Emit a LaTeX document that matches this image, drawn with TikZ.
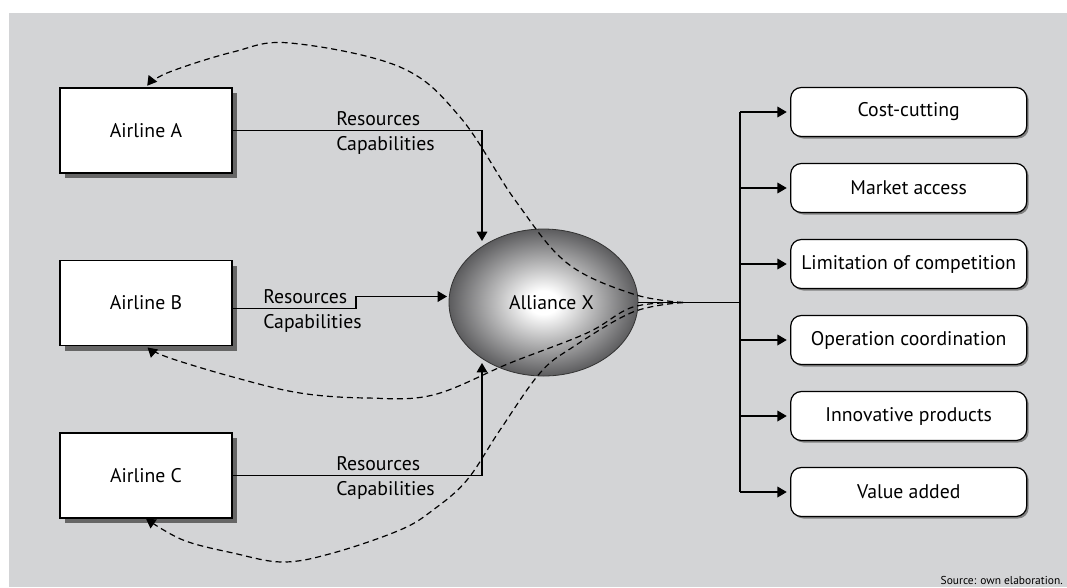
\documentclass[tikz,border=0pt]{standalone}
\usepackage{fontspec}
\setmainfont{PT Sans}
\usetikzlibrary{arrows.meta, shapes.geometric, shadows}

\definecolor{panel}{RGB}{211,212,214}
\definecolor{rim}{RGB}{92,92,94}
\pgfdeclareradialshading{alliance}{\pgfpoint{0bp}{0bp}}{%
  color(0bp)=(white); color(4bp)=(white); color(25bp)=(rim); color(50bp)=(rim)}

\begin{document}
\begin{tikzpicture}[x=0.75pt, y=-0.75pt, font=\fontsize{14.8}{17}\selectfont,
    airline/.style={draw, line width=1pt, fill=white, minimum width=129pt, minimum height=63.75pt,
        drop shadow={shadow xshift=3.75pt, shadow yshift=-3.75pt, fill=black!60, opacity=1}},
    goal/.style={draw, line width=0.9pt, fill=white, rounded corners=8pt, minimum width=177pt, minimum height=36.75pt,
        drop shadow={shadow xshift=1.5pt, shadow yshift=-1.5pt, fill=black!50, opacity=1}},
    link/.style={line width=0.9pt},
    flow/.style={line width=0.9pt, -{Triangle[length=7pt, width=8pt]}},
    feedback/.style={line width=0.9pt, dash pattern=on 4.5pt off 3pt, -{Triangle[length=7pt, width=8pt]}},
    tag/.style={anchor=base west, inner sep=0pt}]

        % panel
        \useasboundingbox (0,0) rectangle (1067,587);
        \fill[panel] (9,13) rectangle (1067,587);

        % partners and the alliance
        \node[airline] (A) at (146,130.5) {Airline A};
        \node[airline] (B) at (146,303) {Airline B};
        \node[airline] (C) at (146,475.5) {Airline C};
        \node[ellipse, draw=black!80, line width=0.6pt, shade, shading=alliance,
            minimum width=141.75pt, minimum height=110.25pt, inner sep=0pt] (X) at (543.5,302.5) {\hspace{12pt}Alliance X};

        % outcomes
        \node[goal] (g1) at (908.7,112) {Cost-cutting};
        \node[goal] (g2) at (908.7,188) {Market access};
        \node[goal] (g3) at (908.7,264) {Limitation of competition};
        \node[goal] (g4) at (908.7,340) {Operation coordination};
        \node[goal] (g5) at (908.7,416) {Innovative products};
        \node[goal] (g6) at (908.7,492) {Value added};

        % resources going in
        \coordinate (inA) at (482,241);
        \coordinate (inB) at (447,296.5);
        \coordinate (inC) at (482,363);
        \draw[flow] (A.east) -| (inA);
        \draw[flow] (B.east |- 0,308.5) -- (356,308.5) |- (inB);
        \draw[flow] (C.east) -| (inC);

        \node[tag] (resA) at (336,125) {Resources};
        \node[tag] (capA) at (336,150) {Capabilities};
        \node[tag] (resB) at (263,303) {Resources};
        \node[tag] (capB) at (263,328) {Capabilities};
        \node[tag] (resC) at (336,470) {Resources};
        \node[tag] (capC) at (336,495) {Capabilities};

        % outcomes fan out
        \coordinate (hub) at (740,302.5);
        \draw[link] (X.east) -- (hub);
        \draw[link] (hub |- g1) -- (hub |- g6);
        \draw[flow, shorten >=2.5pt] (hub |- g1) -- (g1);
        \draw[flow, shorten >=2.5pt] (hub |- g2) -- (g2);
        \draw[flow, shorten >=2.5pt] (hub |- g3) -- (g3);
        \draw[flow, shorten >=2.5pt] (hub |- g4) -- (g4);
        \draw[flow, shorten >=2.5pt] (hub |- g5) -- (g5);
        \draw[flow, shorten >=2.5pt] (hub |- g6) -- (g6);

        % benefits flowing back
        \coordinate (conv) at (683,302.5);
        \draw[feedback, shorten >=1.5pt] plot[smooth, tension=0.6] coordinates
            {(conv) (633,294) (567,263) (515,200) (460,117) (400,67) (290,43) (233,52) (167,73) (A.north)};
        \draw[feedback, shorten >=1.5pt] plot[smooth, tension=0.6] coordinates
            {(conv) (633,307) (587,333) (510,363) (433,395) (367,398) (300,393) (233,377) (167,357) (B.south)};
        \draw[feedback] plot[smooth, tension=0.6] coordinates
            {(conv) (633,312) (573,347) (540,373) (500,430) (467,480) (433,510) (400,530) (333,553) (283,562) (233,553) (183,540) (C.south)};

        \node[anchor=base east, inner sep=0pt, font=\fontsize{8.6}{10}\selectfont] (src) at (1063,584) {Source: own elaboration.};
\end{tikzpicture}
\end{document}
